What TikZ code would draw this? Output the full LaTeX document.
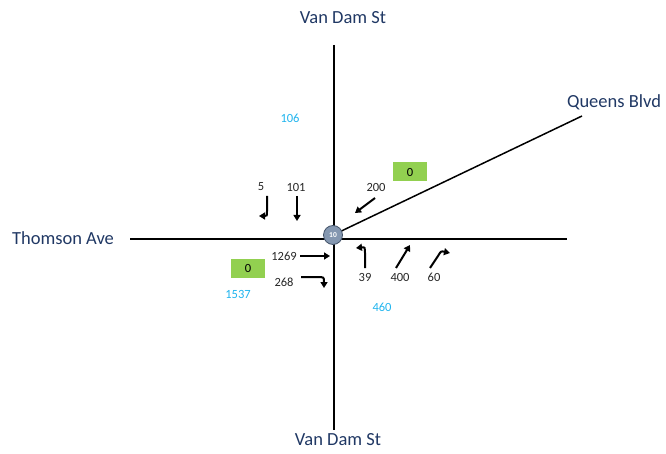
\documentclass[tikz,border=0pt]{standalone}
\usepackage{fontspec}
\setmainfont{Carlito}
\usetikzlibrary{arrows.meta, positioning}
\definecolor{cnavy}{HTML}{203864}
\definecolor{ccyan}{HTML}{1FB4EE}
\definecolor{cgreen}{HTML}{92D050}
\definecolor{cnode}{HTML}{8497B0}
\definecolor{cnodeline}{HTML}{44546A}
\tikzset{
  every picture/.style={x=1pt, y=-1pt},
  road/.style={draw=black, line width=1.5pt},
  street/.style={text=cnavy, font=\fontsize{18.5}{18.5}\selectfont},
  count/.style={text=black!85, font=\fontsize{12.5}{12.5}\selectfont, inner sep=1pt},
  total/.style={text=ccyan, font=\fontsize{12.5}{12.5}\selectfont, inner sep=1pt},
  queue/.style={fill=cgreen, minimum width=34pt, minimum height=19pt, inner sep=0pt, font=\fontsize{12.5}{12.5}\selectfont},
  mov/.style={draw=black, line width=2pt, -{Triangle[length=6pt, width=7pt]}},
  hub/.style={circle, draw=cnodeline, fill=cnode, line width=0.8pt, minimum size=19pt, inner sep=0pt, text=white, font=\bfseries\fontsize{7.5}{7.5}\selectfont},
}
\begin{document}
\begin{tikzpicture}
  \useasboundingbox (0,0) rectangle (666,454);
  % road ends
  \coordinate (north) at (334,45);
  \coordinate (south) at (334,430);
  \coordinate (west) at (130,239);
  \coordinate (east) at (567,239);
  \coordinate (queens) at (582,116);
  \coordinate (ctr) at (333,235);
  \draw[road] (north) -- (south);
  \draw[road] (west) -- (east);
  \draw[road] (ctr) -- (queens);
  \node[hub] (int) at (ctr) {10};
  % street names
  \node[street] (vdn) at (343,18) {Van Dam St};
  \node[street] (vds) at (338,440) {Van Dam St};
  \node[street] (tho) at (63,238) {Thomson Ave};
  \node[street] (qbl) at (614,102) {Queens Blvd};
  % approach totals and queues
  \node[total] (tn) at (290,118) {106};
  \node[total] (ts) at (382,307) {460};
  \node[total] (tw) at (238,294) {1537};
  \node[queue] (qe) at (410,172) {0};
  \node[queue] (qw) at (248,268) {0};
  % turning counts
  \foreach \v/\x/\y [count=\i] in {5/261/187, 101/296/187, 200/376/187, 1269/284/256, 268/284/282, 39/365/277, 400/400/277, 60/434/277}{
    \node[count] (c\i) at (\x,\y) {\v};
  }
  % movement arrows
  \draw[mov] (267,196) -- (267,211) .. controls (267,216) .. (259,216);
  \draw[mov] (297,196) -- (297,221);
  \draw[mov] (375,198) -- (355,213);
  \draw[mov] (300,256) -- (330,256);
  \draw[mov] (301,277) -- (317,277) .. controls (324,277) .. (324,288);
  \draw[mov] (365,268) -- (365,255) .. controls (365,247) .. (356,248);
  \draw[mov] (396,268) -- (410,245);
  \draw[mov] (430,268) -- (438,256) .. controls (441,251) .. (450,253);
\end{tikzpicture}
\end{document}
